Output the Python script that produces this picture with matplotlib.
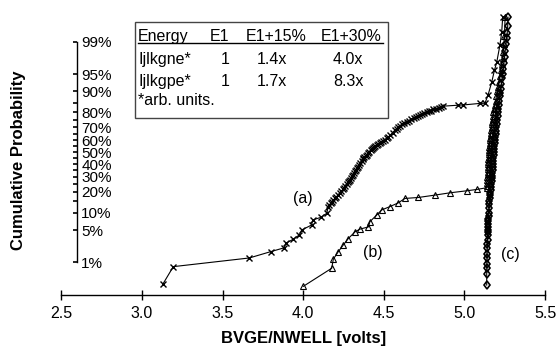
import numpy as np
import matplotlib
matplotlib.use("Agg")
import matplotlib.pyplot as plt
from matplotlib.patches import Rectangle
from matplotlib.lines import Line2D
from statistics import NormalDist

plt.rcParams['font.family'] = ['Liberation Sans', 'DejaVu Sans']

# ---- data (volts, cumulative %) ----
a_volts = [3.129, 3.195, 3.666, 3.799, 3.883, 3.892, 3.939, 3.976, 3.991, 4.053,
           4.059, 4.109, 4.146, 4.156, 4.162, 4.170, 4.178, 4.187, 4.196, 4.205,
           4.216, 4.228, 4.236, 4.245, 4.254, 4.262, 4.271, 4.280, 4.285, 4.290,
           4.298, 4.305, 4.312, 4.318, 4.324, 4.330, 4.336, 4.342, 4.349, 4.355,
           4.362, 4.368, 4.374, 4.380, 4.387, 4.394, 4.402, 4.410, 4.418, 4.425,
           4.432, 4.440, 4.448, 4.456, 4.465, 4.475, 4.485, 4.495, 4.506, 4.518,
           4.529, 4.540, 4.555, 4.569, 4.580, 4.590, 4.603, 4.615, 4.628, 4.642,
           4.656, 4.670, 4.685, 4.700, 4.712, 4.724, 4.737, 4.750, 4.765, 4.780,
           4.793, 4.807, 4.823, 4.840, 4.855, 4.869, 4.962, 4.990, 5.096, 5.127,
           5.146, 5.169, 5.186, 5.200, 5.220, 5.231, 5.237]
a_pct = [0.26, 0.78, 1.27, 1.78, 2.17, 2.7, 3.3, 4.0, 5.0, 6.2,
         7.6, 8.4, 9.8, 12.5, 13.2, 14.0, 14.8, 15.6, 16.4, 17.2,
         18.2, 19.2, 20.3, 21.5, 22.7, 24.0, 25.2, 26.5, 27.1, 27.8,
         29.1, 30.5, 31.7, 33.0, 34.2, 35.5, 36.6, 37.8, 39.4, 41.0,
         42.5, 44.0, 45.0, 46.0, 46.7, 47.5, 49.0, 50.5, 51.8, 53.0,
         53.8, 54.5, 55.2, 55.9, 57.0, 58.0, 58.8, 59.5, 60.4, 61.4,
         62.7, 64.0, 66.0, 67.9, 69.0, 70.0, 71.0, 72.0, 73.0, 73.9,
         74.7, 75.5, 76.3, 77.0, 77.7, 78.3, 78.9, 79.5, 80.0, 80.5,
         81.0, 81.6, 82.0, 82.5, 83.0, 83.4, 83.9, 84.0, 84.8, 84.9,
         88.5, 93.0, 95.8, 97.1, 98.8, 99.43, 99.78]

b_volts = [4.001, 4.177, 4.187, 4.218, 4.249, 4.280, 4.321, 4.352, 4.404, 4.414,
           4.456, 4.487, 4.538, 4.590, 4.631, 4.714, 4.817, 4.910, 5.014, 5.076,
           5.138, 5.139, 5.140, 5.141, 5.142, 5.143, 5.144, 5.145, 5.146, 5.147,
           5.148, 5.149, 5.150, 5.151, 5.152, 5.153, 5.155, 5.156, 5.158, 5.159,
           5.161, 5.162, 5.164, 5.166, 5.168, 5.170, 5.172, 5.174, 5.176, 5.179,
           5.183, 5.188, 5.193, 5.198, 5.204, 5.209, 5.214, 5.219, 5.224, 5.230,
           5.236, 5.240, 5.244, 5.248, 5.252]
b_pct = [0.23, 0.71, 1.19, 1.78, 2.5, 3.4, 4.6, 5.2, 5.7, 7.1,
         9.2, 11.1, 12.5, 14.2, 16.4, 16.9, 18.2, 19.5, 20.7, 21.5,
         22.6, 24.0, 26.0, 28.0, 30.0, 32.0, 34.0, 36.0, 38.0, 40.0,
         42.0, 44.0, 46.0, 48.0, 50.0, 52.0, 54.0, 56.0, 58.0, 60.0,
         62.0, 64.0, 66.0, 68.0, 70.0, 72.0, 74.0, 76.0, 78.0, 80.0,
         82.0, 84.0, 86.0, 88.0, 90.0, 91.5, 93.0, 94.5, 95.8, 96.8,
         97.6, 98.3, 98.9, 99.3, 99.78]

c_volts = [5.138, 5.138, 5.139, 5.139, 5.140, 5.140, 5.141, 5.142, 5.143, 5.144,
           5.145, 5.146, 5.146, 5.147, 5.148, 5.149, 5.150, 5.151, 5.152, 5.154,
           5.155, 5.157, 5.159, 5.161, 5.163, 5.165, 5.166, 5.168, 5.170, 5.171,
           5.173, 5.174, 5.175, 5.177, 5.178, 5.180, 5.181, 5.183, 5.185, 5.186,
           5.188, 5.190, 5.192, 5.194, 5.196, 5.198, 5.200, 5.202, 5.205, 5.207,
           5.210, 5.213, 5.216, 5.219, 5.222, 5.226, 5.229, 5.233, 5.237, 5.241,
           5.245, 5.249, 5.253, 5.258, 5.262, 5.265, 5.268, 5.270]
c_pct = [0.25, 0.5, 0.72, 0.9, 1.26, 1.6, 2.1, 2.6, 3.2, 4.0,
         4.6, 5.0, 5.8, 6.5, 7.2, 8.0, 9.0, 10.0, 12.0, 13.5,
         15.0, 16.5, 18.0, 19.5, 21.0, 23.0, 25.0, 27.0, 29.0, 31.0,
         33.0, 35.0, 37.5, 40.0, 42.5, 45.0, 47.5, 50.0, 52.5, 55.0,
         57.5, 60.0, 62.5, 65.0, 67.5, 70.0, 72.5, 75.0, 77.5, 80.0,
         82.0, 84.0, 86.0, 88.0, 89.5, 91.0, 92.5, 94.0, 95.0, 96.0,
         97.0, 97.8, 98.4, 98.9, 99.2, 99.4, 99.6, 99.78]

x_ticks = [2.5, 3.0, 3.5, 4.0, 4.5, 5.0, 5.5]
y_major = [1, 5, 10, 20, 30, 40, 50, 60, 70, 80, 90, 95, 99]
y_minor = [15, 25, 35, 45, 55, 65, 75, 85]

table_header = ["Energy", "E1", "E1+15%", "E1+30%"]
table_rows = [["Ijlkgne*", "1", "1.4x", "4.0x"],
              ["Ijlkgpe*", "1", "1.7x", "8.3x"]]
table_note = "*arb. units."

# ---- probability scale ----
_nd = NormalDist()
_ppf = np.vectorize(_nd.inv_cdf, otypes=[float])
_cdf = np.vectorize(_nd.cdf, otypes=[float])

def fwd(p):
    p = np.clip(np.asarray(p, dtype=float) / 100.0, 1e-9, 1 - 1e-9)
    return _ppf(p)

def inv(z):
    return _cdf(np.asarray(z, dtype=float)) * 100.0

W, H = 557, 352
FS = 11.5
fig = plt.figure(figsize=(W / 100, H / 100), dpi=100)
ax = fig.add_axes([61.2 / W, 1 - 295 / H, (545.1 - 61.2) / W, (295 - 10) / H])
ax.set_yscale('function', functions=(fwd, inv))
ax.set_xlim(2.5, 5.5)
ax.set_ylim(0.1277, 99.865)

lw = 0.8
ax.plot(a_volts, a_pct, color='black', lw=lw, marker='x', ms=4.5, mew=1.0)
ax.plot(b_volts, b_pct, color='black', lw=lw, marker='^', ms=4.5, mew=0.8, mfc='none')
ax.plot(c_volts, c_pct, color='black', lw=lw, marker='d', ms=4.5, mew=1.2, mfc='none')

# spines
ax.spines['top'].set_visible(False)
ax.spines['left'].set_visible(False)
ax.spines['bottom'].set_linewidth(1)
ax.spines['right'].set_position(('data', 2.598))
ax.spines['right'].set_bounds(1, 99)
ax.spines['right'].set_linewidth(1)

ax.yaxis.tick_right()
ax.set_yticks(y_major)
ax.set_yticklabels([f"{v}%" for v in y_major])
ax.set_yticks(y_minor, minor=True)
ax.tick_params(axis='y', which='both', direction='in', length=3, width=1.2,
               labelsize=11, pad=3)
ax.tick_params(axis='y', which='minor', labelright=False)

ax.set_xticks(x_ticks)
ax.set_xticklabels([f"{v:.1f}" for v in x_ticks])
ax.tick_params(axis='x', direction='inout', length=7.5, width=1, labelsize=FS, pad=4)
ax.set_facecolor('none')

fig.text(303.3 / W, 1 - 338 / H, "BVGE/NWELL [volts]", ha='center', va='center',
         fontsize=12, fontweight='bold')
fig.text(19 / W, 1 - 160.5 / H, "Cumulative Probability", ha='center', va='center',
         rotation=90, fontsize=12, fontweight='bold')

# curve labels
fig.text(293.3 / W, 1 - 198 / H, "(a)", ha='left', va='center', fontsize=FS)
fig.text(362.7 / W, 1 - 253 / H, "(b)", ha='left', va='center', fontsize=FS)
fig.text(501 / W, 1 - 254 / H, "(c)", ha='left', va='center', fontsize=FS)

# table box
fig.patches.append(Rectangle((135 / W, 1 - 118 / H), (388 - 135) / W, (118 - 22) / H,
                             transform=fig.transFigure, facecolor='white',
                             edgecolor='#444444', lw=1, zorder=5))
col_x = [138, 210, 246, 321]
val_x = [138, 221, 257, 333]
for i in range(4):
    fig.text(col_x[i] / W, 1 - 40.7 / H, table_header[i], fontsize=FS, va='baseline', zorder=6)
fig.lines.append(Line2D([138 / W, 383 / W], [1 - 42.5 / H, 1 - 42.5 / H],
                        transform=fig.transFigure, color='black', lw=1, zorder=6))
for r, base in zip(table_rows, [64.3, 86.0]):
    for i, t in enumerate(r):
        fig.text(val_x[i] / W, 1 - base / H, t, fontsize=FS, va='baseline', zorder=6)
fig.text(138 / W, 1 - 105 / H, table_note, fontsize=FS, va='baseline', zorder=6)

fig.savefig("out.png", dpi=100)
